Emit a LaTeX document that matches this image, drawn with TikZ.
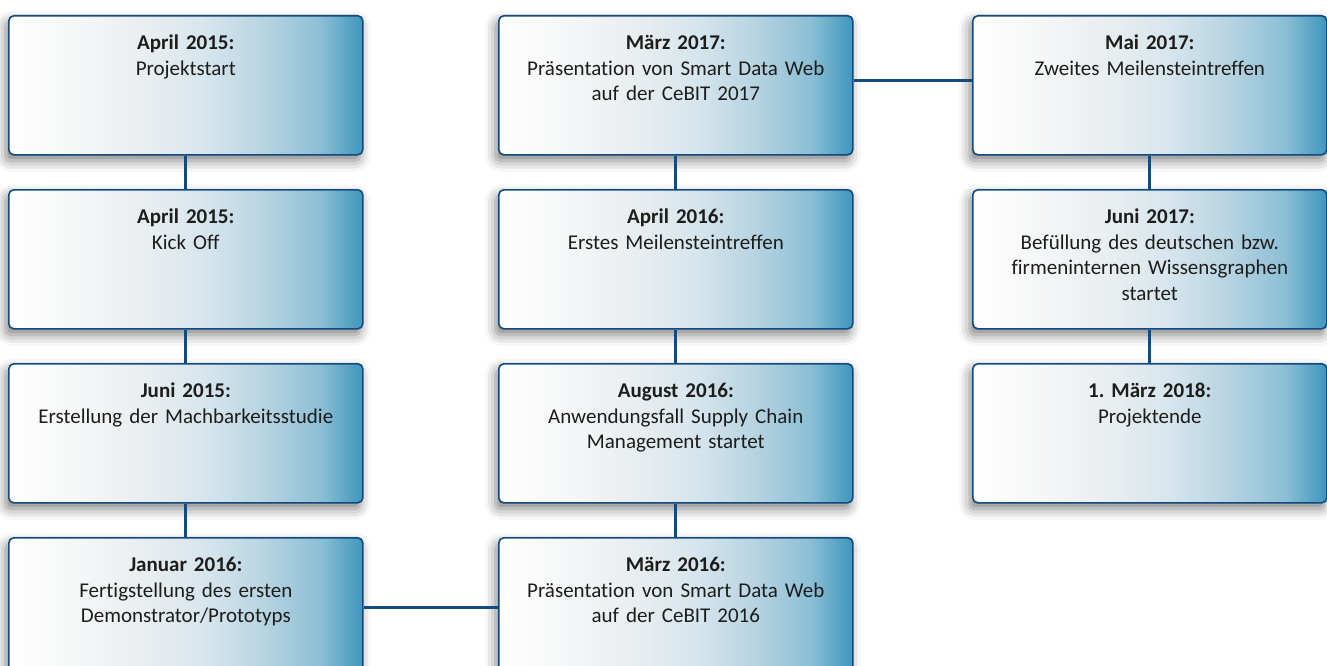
\documentclass[tikz,border=0pt]{standalone}
\usepackage{fontspec}
\setmainfont{Carlito}[Ligatures=CommonOff]
\usetikzlibrary{shadows.blur}
\definecolor{frameblue}{HTML}{134B7F}
\definecolor{textblack}{HTML}{1D1D1B}
\definecolor{fillA}{HTML}{F4F5F6}
\definecolor{fillB}{HTML}{E6ECEF}
\definecolor{fillC}{HTML}{D6E5ED}
\definecolor{fillD}{HTML}{B8D4E2}
\definecolor{fillE}{HTML}{8CBFD5}
\definecolor{fillF}{HTML}{3E96BD}
\pgfdeclarehorizontalshading{milestonefill}{100bp}{color(0bp)=(white); color(25bp)=(white); color(36bp)=(fillA); color(46bp)=(fillB); color(53bp)=(fillC); color(61bp)=(fillD); color(69bp)=(fillE); color(75bp)=(fillF); color(100bp)=(fillF)}
\tikzset{
	milestone/.style={anchor=north west, draw=frameblue, line width=1.6pt, rounded corners=5pt,
		shading=milestonefill, text=textblack, text width=340pt, inner xsep=7pt, inner ysep=0pt,
		text height=34pt, text depth=105pt, align=center,
		font=\fontsize{21}{25.5}\selectfont\frenchspacing,
		blur shadow={shadow xshift=-3pt, shadow yshift=-6pt, shadow blur radius=11pt, shadow opacity=50}},
	link/.style={draw=frameblue, line width=2.8pt}
}

\begin{document}
\begin{tikzpicture}[x=1pt, y=-1pt]
	%%%%% START %%%%%
	\useasboundingbox (0,0) rectangle (1327,666);
	
	\node[milestone] (apr15a) at (8,15) {\textbf{April 2015:}\\Projektstart};
	\node[milestone] (apr15b) at (8,189) {\textbf{April 2015:}\\Kick Off};
	\node[milestone] (jun15) at (8,363) {\textbf{Juni 2015:}\\Erstellung der Machbarkeitsstudie};
	\node[milestone] (jan16) at (8,537) {\textbf{Januar 2016:}\\Fertigstellung des ersten\\Demonstrator/Prototyps};
	
	\node[milestone] (mar17) at (498,15) {\textbf{März 2017:}\\Präsentation von Smart Data Web\\auf der CeBIT 2017};
	\node[milestone] (apr16) at (498,189) {\textbf{April 2016:}\\Erstes Meilensteintreffen};
	\node[milestone] (aug16) at (498,363) {\textbf{August 2016:}\\Anwendungsfall Supply Chain\\Management startet};
	\node[milestone] (mar16) at (498,537) {\textbf{März 2016:}\\Präsentation von Smart Data Web\\auf der CeBIT 2016};
	
	\node[milestone] (mai17) at (972,15) {\textbf{Mai 2017:}\\Zweites Meilensteintreffen};
	\node[milestone] (jun17) at (972,189) {\textbf{Juni 2017:}\\Befüllung des deutschen bzw.\\firmeninternen Wissensgraphen\\startet};
	\node[milestone] (mar18) at (972,363) {\textbf{1. März 2018:}\\Projektende};
	
	\draw[link] (apr15a.south) -- (apr15b.north);
	\draw[link] (apr15b.south) -- (jun15.north);
	\draw[link] (jun15.south) -- (jan16.north);
	\draw[link] (jan16.east) -- (mar16.west);
	\draw[link] (mar16.north) -- (aug16.south);
	\draw[link] (aug16.north) -- (apr16.south);
	\draw[link] (apr16.north) -- (mar17.south);
	\draw[link] ([yshift=5pt]mar17.east) -- ([yshift=5pt]mai17.west);
	\draw[link] (mai17.south) -- (jun17.north);
	\draw[link] (jun17.south) -- (mar18.north);
	
	%%%%% END %%%%%
\end{tikzpicture}
\end{document}
